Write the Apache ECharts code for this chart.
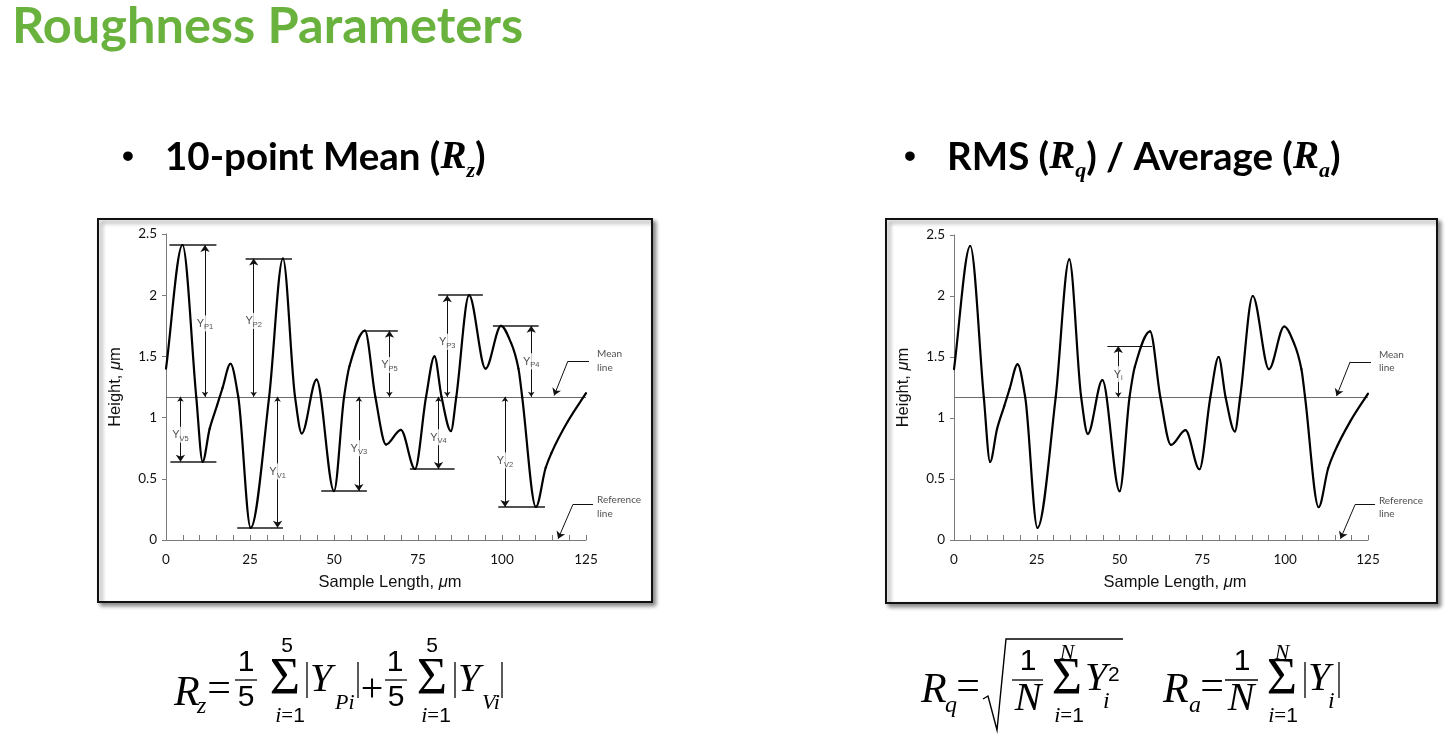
<!DOCTYPE html>
<html>
<head>
<meta charset="utf-8">
<script src="https://cdn.jsdelivr.net/npm/echarts@6/dist/echarts.min.js"></script>
<style>
  html, body { margin: 0; padding: 0; background: #fff; }
  #main { width: 1456px; height: 741px; }
</style>
</head>
<body>
<div id="main"></div>
<script>
// Surface profile: sample position (µm) and height (µm)
const sampleLength = [0, 4.9, 9.0, 10.9, 13, 15.2, 16.8, 19.2, 21.5, 25.2, 30.7, 34.8, 38.4, 40.4, 44.8, 50, 53, 54.6, 59.2, 62.3, 65.5, 69.9, 74.1, 77.4, 79.9, 82, 84.8, 86.4, 90.2, 95.1, 99.7, 102.7, 104.9, 106, 110.1, 113, 114.7, 119.6, 125];
const height = [1.40, 2.41, 1.17, 0.64, 0.91, 1.10, 1.24, 1.44, 1.17, 0.10, 1.17, 2.30, 1.17, 0.87, 1.31, 0.40, 1.17, 1.42, 1.71, 1.17, 0.78, 0.90, 0.58, 1.17, 1.50, 1.17, 0.89, 1.17, 2.00, 1.40, 1.75, 1.61, 1.40, 1.17, 0.27, 0.59, 0.71, 0.97, 1.20];
const meanHeight = 1.17;

// Five highest peaks and five lowest valleys used for Rz
const extremeNames   = ['P1', 'V5', 'P2', 'V1', 'V3', 'P5', 'V4', 'P3', 'P4', 'V2'];
const extremeHeights = [2.41, 0.64, 2.30, 0.10, 0.40, 1.71, 0.58, 2.00, 1.75, 0.27];
const extremeSpanFrom = [1.0, 1.3, 23.7, 21.2, 46.2, 58.7, 72.6, 81.0, 97.3, 98.9];
const extremeSpanTo   = [15.0, 15.0, 37.5, 34.8, 59.8, 69.0, 85.9, 94.3, 110.9, 112.8];
const extremeArrowAt  = [11.6, 4.3, 26.1, 33.2, 57.4, 66.5, 81.1, 83.7, 108.7, 100.9];
const extremeLabelAt  = [1.77, 0.86, 1.79, 0.56, 0.75, 1.43, 0.84, 1.62, 1.46, 0.65];

// Single deviation Yi for Rq / Ra
const deviationHeight = 1.59;
const deviationSpan = [46.3, 59.8];
const deviationArrowAt = 49.6;
const deviationLabelAt = 1.36;

// Callouts for the mean and reference lines (elbow point, then arrow tip)
const meanCallout = [[125.9, 1.46], [119.6, 1.46], [115.5, 1.18]];
const meanCalloutText = [128.3, 1.466];
const refCallout = [[127.1, 0.29], [121.1, 0.29], [116.7, 0.01]];
const refCalloutText = [128.3, 0.27];

const xTickValues = [0, 25, 50, 75, 100, 125];
const yTickValues = [0, 0.5, 1, 1.5, 2, 2.5];

// Monotone cubic (PCHIP) tangents so the profile has flat peaks and valleys
function pchipSlopes(xs, ys) {
  const n = xs.length, h = [], d = [], m = new Array(n);
  for (let i = 0; i < n - 1; i++) { h[i] = xs[i + 1] - xs[i]; d[i] = (ys[i + 1] - ys[i]) / h[i]; }
  m[0] = d[0]; m[n - 1] = d[n - 2];
  for (let i = 1; i < n - 1; i++) {
    if (d[i - 1] * d[i] <= 0) m[i] = 0;
    else {
      const w1 = 2 * h[i] + h[i - 1], w2 = h[i] + 2 * h[i - 1];
      m[i] = (w1 + w2) / (w1 / d[i - 1] + w2 / d[i]);
    }
  }
  return m;
}
const slopes = pchipSlopes(sampleLength, height);

const chart = echarts.init(document.getElementById('main'));

const tickFont = 'Lato, "Open Sans", sans-serif';
const titleFont = '"Liberation Sans", Arial, sans-serif';
const serif = '"Liberation Serif", "Times New Roman", serif';
const sans = '"Liberation Sans", Arial, sans-serif';

function makeXAxis(idx) {
  return {
    gridIndex: idx, type: 'value', min: 0, max: 125, interval: 25,
    axisLine: { show: true, lineStyle: { color: '#7a7a7a', width: 1 } },
    axisTick: { show: true, inside: true, length: 5, lineStyle: { color: '#7a7a7a' } },
    minorTick: { show: true, splitNumber: 5, length: 5, lineStyle: { color: '#7a7a7a' } },
    splitLine: { show: false },
    axisLabel: { color: '#111', fontFamily: tickFont, fontSize: 13.5, margin: 13,
      formatter: v => (xTickValues.indexOf(v) >= 0 ? String(v) : '') },
    name: '{n|Sample Length, }{mu|μ}{n|m}',
    nameLocation: 'middle', nameGap: 34,
    nameTextStyle: { padding: [0, 0, 0, 28], rich: {
      n: { fontFamily: titleFont, fontSize: 16.5, color: '#111' },
      mu: { fontFamily: titleFont, fontSize: 16.5, fontStyle: 'italic', color: '#111' } } }
  };
}
function makeYAxis(idx) {
  return {
    gridIndex: idx, type: 'value', min: 0, max: 2.5, interval: 0.5,
    axisLine: { show: true, lineStyle: { color: '#7a7a7a', width: 1 } },
    axisTick: { show: true, inside: false, length: 4, lineStyle: { color: '#7a7a7a' } },
    splitLine: { show: false },
    axisLabel: { color: '#111', fontFamily: tickFont, fontSize: 13.5, margin: 9,
      formatter: v => (yTickValues.indexOf(v) >= 0 ? String(v) : '') },
    name: '{n|Height, }{mu|μ}{n|m}',
    nameLocation: 'middle', nameGap: 42, nameRotate: 90,
    nameTextStyle: { rich: {
      n: { fontFamily: titleFont, fontSize: 16.5, color: '#111' },
      mu: { fontFamily: titleFont, fontSize: 16.5, fontStyle: 'italic', color: '#111' } } }
  };
}

function profileSeries(idx) {
  return {
    type: 'custom', xAxisIndex: idx, yAxisIndex: idx, z: 4, silent: true, clip: false,
    data: sampleLength.map((x, i) => [x, height[i]]),
    encode: { x: 0, y: 1 },
    renderItem(params, api) {
      const i = params.dataIndex;
      if (i >= sampleLength.length - 1) return { type: 'group', children: [] };
      const x0 = sampleLength[i], x1 = sampleLength[i + 1];
      const y0 = height[i], y1 = height[i + 1];
      const t = (x1 - x0) / 3;
      const p0 = api.coord([x0, y0]);
      const c1 = api.coord([x0 + t, y0 + slopes[i] * t]);
      const c2 = api.coord([x1 - t, y1 - slopes[i + 1] * t]);
      const p1 = api.coord([x1, y1]);
      return {
        type: 'bezierCurve',
        shape: { x1: p0[0], y1: p0[1], cpx1: c1[0], cpy1: c1[1], cpx2: c2[0], cpy2: c2[1], x2: p1[0], y2: p1[1] },
        style: { stroke: '#000', lineWidth: 2.2, fill: null, lineCap: 'round' }
      };
    }
  };
}

function segments(idx, coordsList, color, width, symbol, symbolSize, z) {
  return {
    type: 'lines', coordinateSystem: 'cartesian2d', xAxisIndex: idx, yAxisIndex: idx,
    silent: true, z: z || 3, clip: false,
    symbol: symbol, symbolSize: symbolSize,
    lineStyle: { color: color, width: width, opacity: 1, curveness: 0 },
    data: coordsList.map(c => ({ coords: c }))
  };
}

function yLabels(idx, points, names) {
  return {
    type: 'scatter', xAxisIndex: idx, yAxisIndex: idx, z: 6, silent: true, clip: false,
    symbolSize: 0.1, itemStyle: { color: 'transparent' },
    data: points.map((p, i) => ({ value: p, name: names[i] })),
    label: {
      show: true, position: 'inside', backgroundColor: '#fff', padding: [1, 1, 0, 1],
      formatter: p => '{y|Y}{s|' + p.name + '}',
      rich: {
        y: { fontFamily: titleFont, fontSize: 11, color: '#222', lineHeight: 15, verticalAlign: 'middle' },
        s: { fontFamily: titleFont, fontSize: 7.5, color: '#222', lineHeight: 9, verticalAlign: 'bottom' }
      }
    }
  };
}

function calloutText(idx) {
  return {
    type: 'scatter', xAxisIndex: idx, yAxisIndex: idx, z: 6, silent: true, clip: false,
    symbolSize: 0.1, itemStyle: { color: 'transparent' },
    data: [{ value: meanCalloutText, name: 'Mean\nline' }, { value: refCalloutText, name: 'Reference\nline' }],
    label: { show: true, position: 'inside', align: 'left', verticalAlign: 'middle',
      formatter: p => p.name, fontFamily: tickFont, fontSize: 10, lineHeight: 13.5, color: '#222' }
  };
}

function callouts(idx) {
  const c = [meanCallout, refCallout];
  return [
    segments(idx, c.map(p => [p[0], p[1]]), '#111', 1, 'none', 0),
    segments(idx, c.map(p => [p[1], p[2]]), '#111', 1, ['none', 'arrow'], [5, 7])
  ];
}

function meanLine(idx) {
  return segments(idx, [[[0, meanHeight], [125, meanHeight]]], '#6a6a6a', 1, 'none', 0, 2);
}

const series = [];
// Left chart: 10-point mean
series.push(meanLine(0));
series.push(segments(0, extremeNames.map((n, i) => [[extremeSpanFrom[i], extremeHeights[i]], [extremeSpanTo[i], extremeHeights[i]]]), '#1a1a1a', 1.6, 'none', 0));
series.push(segments(0, extremeNames.map((n, i) => [[extremeArrowAt[i], meanHeight], [extremeArrowAt[i], extremeHeights[i]]]), '#111', 1, ['arrow', 'arrow'], [5, 7]));
series.push(profileSeries(0));
series.push(yLabels(0, extremeNames.map((n, i) => [extremeArrowAt[i], extremeLabelAt[i]]), extremeNames));
series.push(...callouts(0));
series.push(calloutText(0));
// Right chart: RMS / average
series.push(meanLine(1));
series.push(segments(1, [[[deviationSpan[0], deviationHeight], [deviationSpan[1], deviationHeight]]], '#1a1a1a', 1, 'none', 0));
series.push(segments(1, [[[deviationArrowAt, meanHeight], [deviationArrowAt, deviationHeight]]], '#111', 1, ['arrow', 'arrow'], [5, 7]));
series.push(profileSeries(1));
series.push(yLabels(1, [[deviationArrowAt, deviationLabelAt]], ['i']));
series.push(...callouts(1));
series.push(calloutText(1));

// Slide decoration: frames, headings and formulas
function txt(text, x, y, size, family, extra) {
  return { type: 'text', z: 10, silent: true, style: Object.assign({
    text: text, x: x, y: y, fontSize: size, fontFamily: family, fill: '#000',
    align: 'left', verticalAlign: 'middle', textAlign: 'left', textVerticalAlign: 'middle'
  }, extra || {}) };
}
function ctxt(text, x, y, size, family, extra) {
  return txt(text, x, y, size, family, Object.assign({ align: 'center', textAlign: 'center' }, extra || {}));
}
function seg(x1, y1, x2, y2, w) {
  return { type: 'line', z: 10, silent: true, shape: { x1, y1, x2, y2 }, style: { stroke: '#000', lineWidth: w || 1.3 } };
}
const it = { fontStyle: 'italic' };
function lowerLimit(cx, cy) {
  return ctxt('{i|i}{e|=}{o|1}', cx, cy, 21, serif, { rich: {
    i: { fontFamily: serif, fontStyle: 'italic', fontSize: 22 },
    e: { fontFamily: serif, fontSize: 21 },
    o: { fontFamily: sans, fontSize: 21 } } });
}
function frame(x, y, w, h) {
  return { type: 'rect', z: -5, silent: true, shape: { x, y, width: w, height: h },
    style: { fill: '#fff', stroke: '#111', lineWidth: 2, shadowBlur: 4, shadowOffsetX: 3, shadowOffsetY: 3, shadowColor: 'rgba(0,0,0,0.45)' } };
}
const headRich = {
  t: { fontFamily: 'Lato, "Open Sans", sans-serif', fontWeight: 'bold', fontSize: 38.5, color: '#000', lineHeight: 48, verticalAlign: 'middle' },
  r: { fontFamily: serif, fontStyle: 'italic', fontWeight: 'bold', fontSize: 39, color: '#000', lineHeight: 48, verticalAlign: 'middle' },
  s: { fontFamily: serif, fontStyle: 'italic', fontWeight: 'bold', fontSize: 22, color: '#000', lineHeight: 25, verticalAlign: 'bottom' }
};

const graphic = [
  frame(98, 219, 554, 383),
  frame(886, 219, 551, 384),
  txt('Roughness Parameters', 12, 27, 50.5, 'Lato, "Open Sans", sans-serif', { fontWeight: 'bold', fill: '#6AB23E' }),
  ctxt('•', 128, 158, 34, sans, { fontWeight: 'bold' }),
  txt('{t|10-point Mean (}{r|R}{s|z}{t|)}', 165, 158, 38, 'Lato', { rich: headRich }),
  ctxt('•', 910, 158, 34, sans, { fontWeight: 'bold' }),
  txt('{t|RMS (}{r|R}{s|q}{t|) / Average (}{r|R}{s|a}{t|)}', 947, 158, 38, 'Lato', { rich: headRich }),

  // Rz formula
  txt('R', 174, 694, 42, serif, it),
  txt('z', 197, 707, 24, serif, it),
  ctxt('=', 219, 690, 42, serif),
  ctxt('1', 246, 663, 30, sans), seg(235, 680, 257, 680), ctxt('5', 246, 698, 30, sans),
  ctxt('5', 287, 646, 21, sans), ctxt('Σ', 285, 680, 52, serif), lowerLimit(290, 716),
  seg(307, 662, 307, 698), txt('Y', 310, 680, 40, serif, it), txt('Pi', 335, 703, 22, serif, it), seg(358, 662, 358, 698),
  ctxt('+', 372, 690, 40, serif),
  ctxt('1', 395, 663, 30, sans), seg(385, 680, 407, 680), ctxt('5', 396, 698, 30, sans),
  ctxt('5', 432, 646, 21, sans), ctxt('Σ', 432, 680, 52, serif), lowerLimit(436, 716),
  seg(455, 662, 455, 698), txt('Y', 458, 680, 40, serif, it), txt('Vi', 482, 703, 22, serif, it), seg(502, 662, 502, 698),

  // Rq formula
  txt('R', 921, 691, 42, serif, it),
  txt('q', 945, 706, 24, serif, it),
  ctxt('=', 968, 688, 42, serif),
  { type: 'polyline', z: 10, silent: true, shape: { points: [[983, 699], [988, 696], [997, 730], [1006, 639], [1123, 639]] },
    style: { stroke: '#000', lineWidth: 1.4, fill: null } },
  ctxt('1', 1028, 662, 30, sans), seg(1012, 680, 1043, 680), ctxt('N', 1028, 699, 40, serif, it),
  ctxt('N', 1067, 653, 22, serif, it), ctxt('Σ', 1067, 680, 52, serif), lowerLimit(1069, 716),
  txt('Y', 1085, 679, 40, serif, it), txt('2', 1108, 675, 21, sans), txt('i', 1103, 702, 24, serif, it),

  // Ra formula
  txt('R', 1163, 691, 42, serif, it),
  txt('a', 1189, 706, 24, serif, it),
  ctxt('=', 1212, 688, 42, serif),
  ctxt('1', 1242, 662, 30, sans), seg(1225, 680, 1258, 680), ctxt('N', 1241, 699, 40, serif, it),
  ctxt('N', 1282, 653, 22, serif, it), ctxt('Σ', 1282, 680, 52, serif), lowerLimit(1283, 716),
  seg(1305, 662, 1305, 698), txt('Y', 1308, 679, 40, serif, it), txt('i', 1328, 702, 24, serif, it), seg(1339, 662, 1339, 698)
];

chart.setOption({
  animation: false,
  backgroundColor: '#fff',
  grid: [
    { left: 166, top: 234, width: 420, height: 306 },
    { left: 954, top: 235, width: 414, height: 305 }
  ],
  xAxis: [makeXAxis(0), makeXAxis(1)],
  yAxis: [makeYAxis(0), makeYAxis(1)],
  series: series,
  graphic: graphic
});
</script>
</body>
</html>
